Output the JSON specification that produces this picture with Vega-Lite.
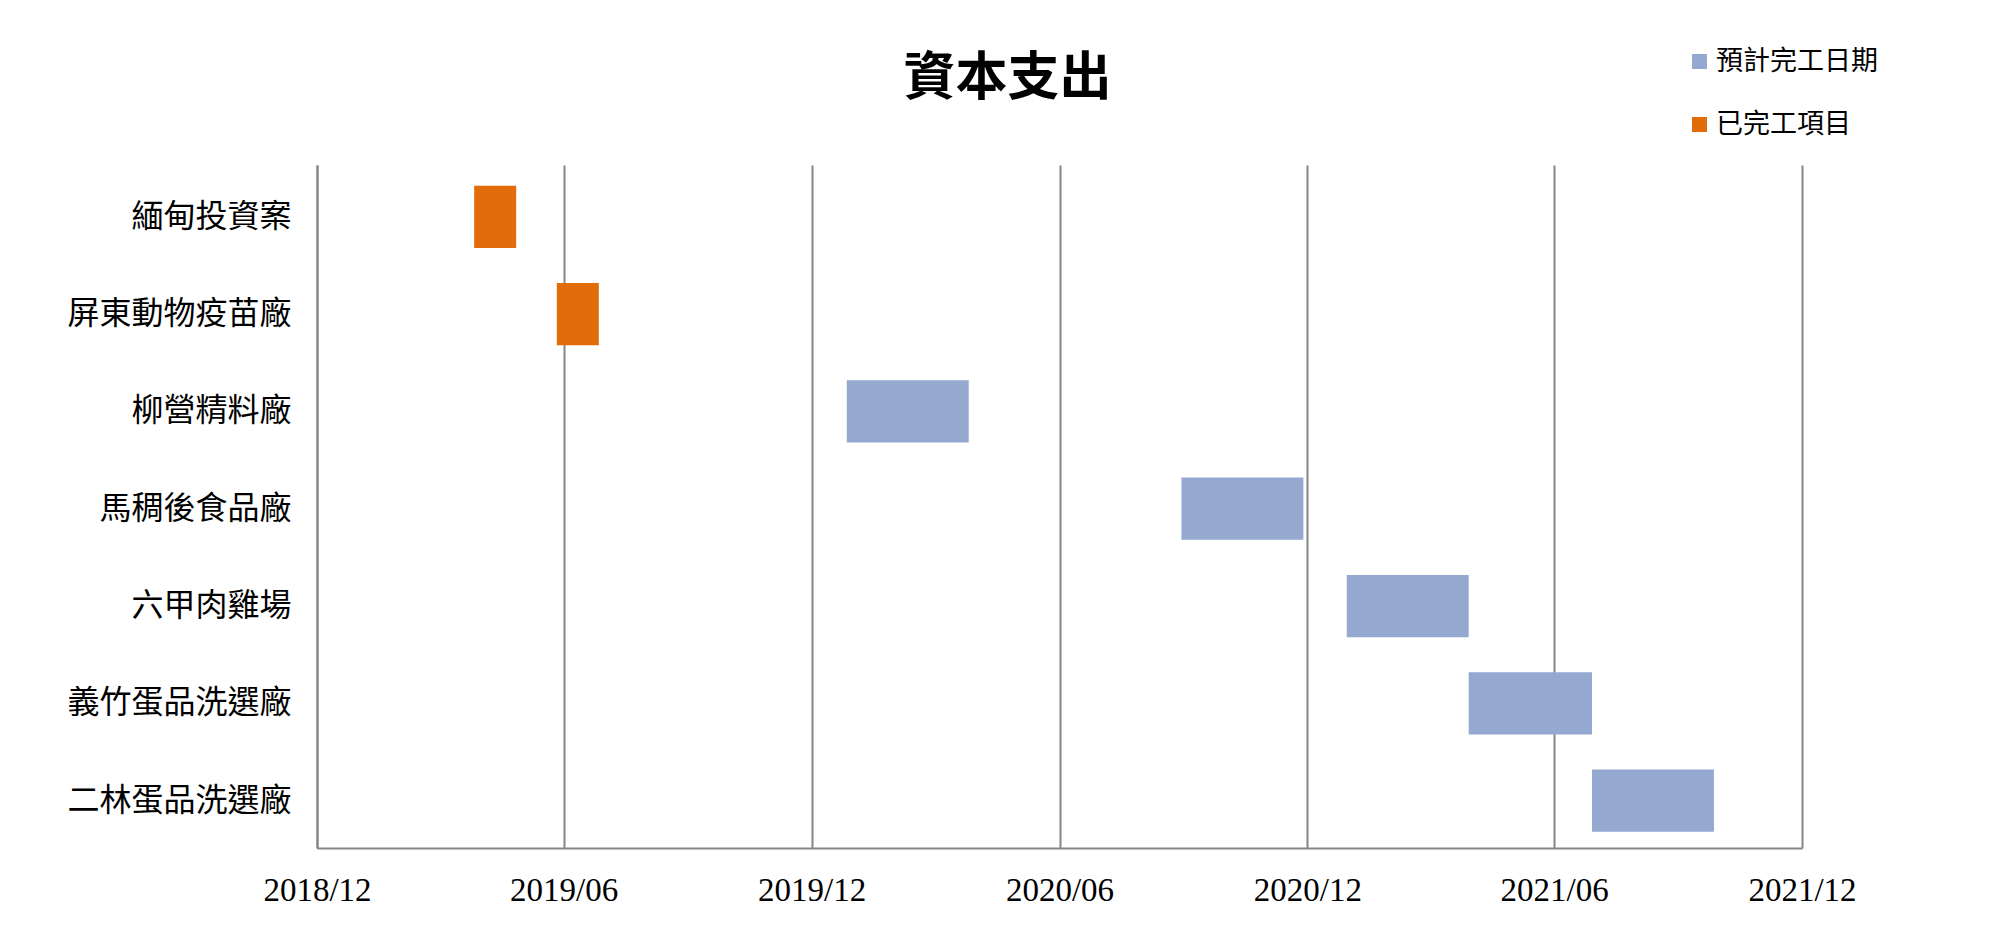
{
  "$schema": "https://vega.github.io/schema/vega-lite/v6.json",
  "autosize": {"type": "none"},
  "width": 1485,
  "height": 683,
  "padding": {"left": 317, "top": 165, "right": 193, "bottom": 88},
  "background": "white",
  "title": {
    "text": "資本支出",
    "font": "Noto Sans CJK TC",
    "fontSize": 52,
    "fontWeight": "bold",
    "color": "#000000",
    "anchor": "middle",
    "frame": "group",
    "dx": -52,
    "offset": -58
  },
  "data": {
    "values": [
      {"project": "緬甸投資案", "start": "2019-03-27", "end": "2019-04-27", "status": "已完工項目"},
      {"project": "屏東動物疫苗廠", "start": "2019-05-27", "end": "2019-06-27", "status": "已完工項目"},
      {"project": "柳營精料廠", "start": "2019-12-27", "end": "2020-03-26", "status": "預計完工日期"},
      {"project": "馬稠後食品廠", "start": "2020-08-30", "end": "2020-11-28", "status": "預計完工日期"},
      {"project": "六甲肉雞場", "start": "2020-12-30", "end": "2021-03-30", "status": "預計完工日期"},
      {"project": "義竹蛋品洗選廠", "start": "2021-03-30", "end": "2021-06-29", "status": "預計完工日期"},
      {"project": "二林蛋品洗選廠", "start": "2021-06-29", "end": "2021-09-27", "status": "預計完工日期"}
    ]
  },
  "mark": {"type": "bar", "cornerRadius": 0},
  "encoding": {
    "y": {
      "field": "project",
      "type": "nominal",
      "sort": null,
      "title": null,
      "scale": {"paddingInner": 0.36, "paddingOuter": 0.19, "align": 0.56},
      "axis": {
        "labelFont": "Noto Sans CJK TC",
        "labelFontSize": 32,
        "labelColor": "#000000",
        "labelPadding": 26,
        "labelLimit": 500,
        "ticks": false,
        "domainColor": "#868686",
        "domainWidth": 2,
        "grid": false
      }
    },
    "x": {
      "field": "start",
      "type": "temporal",
      "title": null,
      "scale": {
        "type": "utc",
        "domain": [
          {"year": 2018, "month": 12, "date": 1, "utc": true},
          {"year": 2021, "month": 12, "date": 1, "utc": true}
        ],
        "nice": false
      },
      "axis": {
        "values": [
          {"year": 2018, "month": 12, "date": 1, "utc": true},
          {"year": 2019, "month": 6, "date": 1, "utc": true},
          {"year": 2019, "month": 12, "date": 1, "utc": true},
          {"year": 2020, "month": 6, "date": 1, "utc": true},
          {"year": 2020, "month": 12, "date": 1, "utc": true},
          {"year": 2021, "month": 6, "date": 1, "utc": true},
          {"year": 2021, "month": 12, "date": 1, "utc": true}
        ],
        "format": "%Y/%m",
        "labelFont": "Liberation Serif",
        "labelFontSize": 33,
        "labelColor": "#000000",
        "labelPadding": 26,
        "labelFlush": false,
        "labelOverlap": false,
        "ticks": false,
        "grid": true,
        "gridColor": "#868686",
        "gridWidth": 2,
        "gridOpacity": 1,
        "domainColor": "#868686",
        "domainWidth": 2
      }
    },
    "x2": {"field": "end"},
    "color": {
      "field": "status",
      "type": "nominal",
      "title": null,
      "scale": {
        "domain": ["預計完工日期", "已完工項目"],
        "range": ["#95A9D0", "#E36C0A"]
      },
      "legend": {
        "orient": "none",
        "legendX": 1369,
        "legendY": -117,
        "padding": 0,
        "symbolType": "square",
        "symbolSize": 225,
        "symbolStrokeWidth": 0,
        "symbolOpacity": 1,
        "labelFont": "Noto Sans CJK TC",
        "labelFontSize": 27,
        "labelLimit": 400,
        "labelColor": "#000000",
        "labelOffset": 3,
        "rowPadding": 35,
        "direction": "vertical"
      }
    }
  },
  "config": {
    "view": {"stroke": null}
  }
}
